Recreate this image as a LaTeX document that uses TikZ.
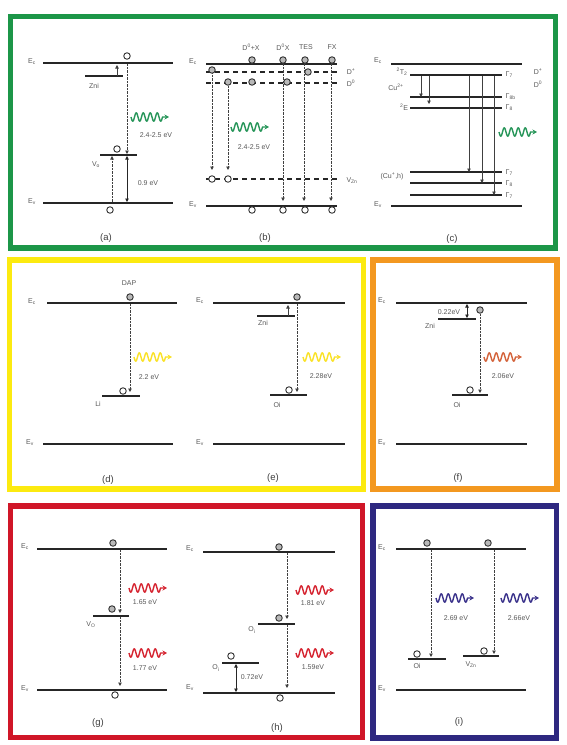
\documentclass[tikz,border=0pt]{standalone}
\usepackage{fontspec}
\setmainfont{Liberation Sans}
\usetikzlibrary{arrows.meta}
\definecolor{cgreen}{RGB}{28,150,72}
\definecolor{cyellow}{RGB}{252,234,16}
\definecolor{corange}{RGB}{243,152,32}
\definecolor{cred}{RGB}{208,22,40}
\definecolor{cnavy}{RGB}{46,40,128}
\definecolor{wgreen}{RGB}{40,150,90}
\definecolor{wyellow}{RGB}{250,226,40}
\definecolor{worange}{RGB}{212,100,60}
\definecolor{wred}{RGB}{214,38,50}
\definecolor{wnavy}{RGB}{60,52,140}
\tikzset{
 lvl/.style={line width=1.7pt, draw=black!85},
 dlvl/.style={lvl, dash pattern=on 5pt off 4pt},
 sublvl/.style={line width=1.3pt, draw=black!85},
 el/.style={circle, draw=black!80, line width=0.9pt, fill=gray!55, inner sep=0pt, minimum size=6.5pt},
 ho/.style={el, fill=white},
 dtr/.style={line width=0.9pt, draw=black!75, dash pattern=on 0.7pt off 0.7pt, -{Triangle[length=3.5pt,width=3.5pt]}},
 str/.style={line width=0.7pt, draw=black!75, -{Triangle[length=3.5pt,width=3.5pt]}},
 dbl/.style={line width=0.9pt, draw=black!85, {Triangle[length=3.5pt,width=3.5pt]}-{Triangle[length=3.5pt,width=3.5pt]}},
 lab/.style={font=\fontsize{7}{8}\selectfont, text=black!65, inner sep=0.5pt},
 capt/.style={font=\fontsize{9.5}{11}\selectfont, text=black!75, inner sep=0pt},
 frame/.style={line width=5.5pt},
 wave/.pic={\draw[line width=1.4pt, line join=round, -{Stealth[length=4.5pt,width=5pt]}] plot[domain=0:31.5, samples=64] (\x, {4.2*sin(\x*360/7)}) -- (38,0);}
}
\begin{document}
\begin{tikzpicture}[x=1pt,y=-1pt]
\useasboundingbox (0,0) rectangle (567,745);
\fill[white] (0,0) rectangle (567,745);
% frames
\draw[frame, cgreen] (10.5,16.5) rectangle (555.5,248);
\draw[frame, cyellow] (9.5,260) rectangle (363.5,489);
\draw[frame, corange] (373,260) rectangle (557,489);
\draw[frame, cred] (10.5,506) rectangle (362.5,737.5);
\draw[frame, cnavy] (373,506) rectangle (556.5,738);

% ---------- (a)
\draw[lvl] (43,63) -- (173,63);
\node[lab] (aEc) at (32,62) {E\textsubscript{c}};
\draw[sublvl] (85,76) -- (123,76);
\node[lab] (aZni) at (94,86) {Zni};
\draw[str] (117,76) -- (117,65);
\draw[dtr] (127,64) -- (127,154);
\node[ho] (a1) at (127,56) {};
\pic[color=wgreen] at (131,117) {wave};
\node[lab] (aE) at (156,135) {2.4-2.5 eV};
\draw[sublvl] (100,155) -- (137,155);
\node[ho] (a2) at (117,149) {};
\node[lab] (aVo) at (96,165) {V\textsubscript{o}};
\draw[dtr] (112,202) -- (112,156);
\draw[dbl] (127,156) -- (127,202);
\node[lab] (a09) at (148,183) {0.9 eV};
\draw[lvl] (43,203) -- (173,203);
\node[lab] (aEv) at (32,202) {E\textsubscript{v}};
\node[ho] (a3) at (110,210) {};
\node[capt] (capa) at (106,238) {(a)};

% ---------- (b)
\draw[lvl] (206,64) -- (337,64);
\node[lab] (bEc) at (193,62) {E\textsubscript{c}};
\draw[dlvl] (206,72) -- (337,72);
\draw[dlvl] (206,83) -- (337,83);
\draw[dlvl] (206,179) -- (340,179);
\node[lab] (bDp) at (351,72) {D\textsuperscript{+}};
\node[lab] (bD0) at (351,83) {D\textsuperscript{0}};
\node[lab] (bVzn) at (352,181) {V\textsubscript{Zn}};
\node[lab] (bl1) at (251,47) {D\textsuperscript{0}+X};
\node[lab] (bl2) at (283,47) {D\textsuperscript{0}X};
\node[lab] (bl3) at (306,47) {TES};
\node[lab] (bl4) at (332,47) {FX};
\draw[dtr] (212,72) -- (212,170);
\draw[dtr] (228,83) -- (228,170);
\draw[dtr] (283,64) -- (283,201);
\draw[dtr] (304,64) -- (304,201);
\draw[dtr] (331,64) -- (331,201);
\foreach \x in {252,283,305,332} \node[el] at (\x,60) {};
\node[el] at (212,70) {};
\node[el] at (308,72) {};
\foreach \x in {228,252,287} \node[el] at (\x,82) {};
\node[ho] at (212,179) {};
\node[ho] at (228,179) {};
\pic[color=wgreen] at (231,127) {wave};
\node[lab] (bE) at (254,147) {2.4-2.5 eV};
\draw[lvl] (206,206) -- (337,206);
\node[lab] (bEv) at (193,205) {E\textsubscript{v}};
\foreach \x in {252,283,305,332} \node[ho] at (\x,210) {};
\node[capt] (capb) at (265,238) {(b)};

% ---------- (c)
\draw[lvl] (391,64) -- (522,64);
\node[lab] (cEc) at (378,61) {E\textsubscript{c}};
\draw[sublvl] (410,75) -- (502,75);
\draw[sublvl] (410,97) -- (502,97);
\draw[sublvl] (410,108) -- (502,108);
\draw[sublvl] (410,172) -- (502,172);
\draw[sublvl] (410,183) -- (502,183);
\draw[sublvl] (410,195) -- (502,195);
\draw[lvl] (391,206) -- (522,206);
\node[lab] (cEv) at (378,205) {E\textsubscript{v}};
\node[lab] (cT2) at (402,72) {\textsuperscript{2}T\textsubscript{2}};
\node[lab] (cCu) at (396,87) {Cu\textsuperscript{2+}};
\node[lab] (c2E) at (404,107) {\textsuperscript{2}E};
\node[lab] (cCuh) at (392,176) {(Cu\textsuperscript{+},h)};
\node[lab, anchor=west] at (505,75) {Γ\textsubscript{7}};
\node[lab, anchor=west] at (505,97) {Γ\textsubscript{8b}};
\node[lab, anchor=west] at (505,108) {Γ\textsubscript{8}};
\node[lab, anchor=west] at (505,173) {Γ\textsubscript{7}};
\node[lab, anchor=west] at (505,184) {Γ\textsubscript{8}};
\node[lab, anchor=west] at (505,196) {Γ\textsubscript{7}};
\node[lab] (cDp) at (538,72) {D\textsuperscript{+}};
\node[lab] (cD0) at (538,84) {D\textsuperscript{0}};
\draw[str] (421,76) -- (421,97);
\draw[str] (429,76) -- (429,104);
\draw[str] (469,76) -- (469,172);
\draw[str] (482,76) -- (482,183);
\draw[str] (494,76) -- (494,195);
\pic[color=wgreen] at (499,132) {wave};
\node[capt] (capc) at (452,239) {(c)};

% ---------- (d)
\draw[lvl] (47,303) -- (177,303);
\node[lab] (dEc) at (32,302) {E\textsubscript{c}};
\node[lab] (dDAP) at (129,283) {DAP};
\draw[dtr] (130,304) -- (130,392);
\node[el] (d1) at (130,297) {};
\pic[color=wyellow] at (134,357) {wave};
\node[lab] (dE) at (149,377) {2.2 eV};
\draw[sublvl] (102,396) -- (140,396);
\node[ho] (d2) at (123,391) {};
\node[lab] (dLi) at (98,404) {Li};
\draw[lvl] (43,444) -- (173,444);
\node[lab] (dEv) at (30,443) {E\textsubscript{v}};
\node[capt] (capd) at (108,480) {(d)};

% ---------- (e)
\draw[lvl] (213,303) -- (345,303);
\node[lab] (eEc) at (200,301) {E\textsubscript{c}};
\draw[sublvl] (257,316) -- (295,316);
\node[lab] (eZni) at (263,323) {Zni};
\draw[str] (288,316) -- (288,305);
\draw[dtr] (297,304) -- (297,392);
\node[el] (e1) at (297,297) {};
\pic[color=wyellow] at (303,357) {wave};
\node[lab] (eE) at (321,376) {2.28eV};
\draw[sublvl] (270,395) -- (307,395);
\node[ho] (e2) at (289,390) {};
\node[lab] (eOi) at (277,405) {Oi};
\draw[lvl] (213,444) -- (345,444);
\node[lab] (eEv) at (200,443) {E\textsubscript{v}};
\node[capt] (cape) at (273,478) {(e)};

% ---------- (f)
\draw[lvl] (396,303) -- (527,303);
\node[lab] (fEc) at (382,301) {E\textsubscript{c}};
\draw[sublvl] (438,319) -- (476,319);
\node[lab] (fZni) at (430,326) {Zni};
\draw[dbl] (467,304) -- (467,318);
\node[lab] (f022) at (449,312) {0.22eV};
\draw[dtr] (480,314) -- (480,393);
\node[el] (f1) at (480,310) {};
\pic[color=worange] at (484,357) {wave};
\node[lab] (fE) at (503,376) {2.06eV};
\draw[sublvl] (452,395) -- (488,395);
\node[ho] (f2) at (470,390) {};
\node[lab] (fOi) at (457,405) {Oi};
\draw[lvl] (396,444) -- (527,444);
\node[lab] (fEv) at (382,443) {E\textsubscript{v}};
\node[capt] (capf) at (458,478) {(f)};

% ---------- (g)
\draw[lvl] (37,549) -- (167,549);
\node[lab] (gEc) at (25,547) {E\textsubscript{c}};
\draw[dtr] (120,550) -- (120,613);
\draw[dtr] (120,617) -- (120,686);
\node[el] (g1) at (113,543) {};
\pic[color=wred] at (129,588) {wave};
\node[lab] (gE1) at (145,602) {1.65 eV};
\draw[sublvl] (93,616) -- (129,616);
\node[el] (g2) at (112,609) {};
\node[lab] (gVo) at (91,625) {V\textsubscript{O}};
\pic[color=wred] at (129,653) {wave};
\node[lab] (gE2) at (145,668) {1.77 eV};
\draw[lvl] (37,690) -- (167,690);
\node[lab] (gEv) at (25,689) {E\textsubscript{v}};
\node[ho] (g3) at (115,695) {};
\node[capt] (capg) at (98,723) {(g)};

% ---------- (h)
\draw[lvl] (203,552) -- (335,552);
\node[lab] (hEc) at (190,549) {E\textsubscript{c}};
\draw[dtr] (287,553) -- (287,619);
\draw[dtr] (287,625) -- (287,688);
\node[el] (h1) at (279,547) {};
\pic[color=wred] at (296,590) {wave};
\node[lab] (hE1) at (313,603) {1.81 eV};
\draw[sublvl] (258,624) -- (295,624);
\node[el] (h2) at (279,618) {};
\node[lab] (hOi1) at (252,630) {O\textsubscript{i}};
\pic[color=wred] at (296,653) {wave};
\node[lab] (hE2) at (313,667) {1.59eV};
\draw[sublvl] (222,663) -- (259,663);
\node[ho] (h3) at (231,656) {};
\node[lab] (hOi2) at (216,668) {O\textsubscript{i}};
\draw[dbl] (236,664) -- (236,692);
\node[lab] (h072) at (252,677) {0.72eV};
\draw[lvl] (203,693) -- (335,693);
\node[lab] (hEv) at (190,688) {E\textsubscript{v}};
\node[ho] (h4) at (280,698) {};
\node[capt] (caph) at (277,728) {(h)};

% ---------- (i)
\draw[lvl] (396,549) -- (526,549);
\node[lab] (iEc) at (382,548) {E\textsubscript{c}};
\draw[dtr] (431,550) -- (431,657);
\draw[dtr] (494,550) -- (494,654);
\node[el] (i1) at (427,543) {};
\node[el] (i2) at (488,543) {};
\pic[color=wnavy] at (436,598) {wave};
\node[lab] (iE1) at (456,618) {2.69 eV};
\pic[color=wnavy] at (501,598) {wave};
\node[lab] (iE2) at (519,618) {2.66eV};
\draw[sublvl] (408,659) -- (446,659);
\node[ho] (i3) at (417,654) {};
\node[lab] (iOi) at (417,666) {Oi};
\draw[sublvl] (463,656) -- (499,656);
\node[ho] (i4) at (484,651) {};
\node[lab] (iVzn) at (471,665) {V\textsubscript{Zn}};
\draw[lvl] (396,690) -- (526,690);
\node[lab] (iEv) at (382,689) {E\textsubscript{v}};
\node[capt] (capi) at (459,722) {(i)};
\end{tikzpicture}
\end{document}
